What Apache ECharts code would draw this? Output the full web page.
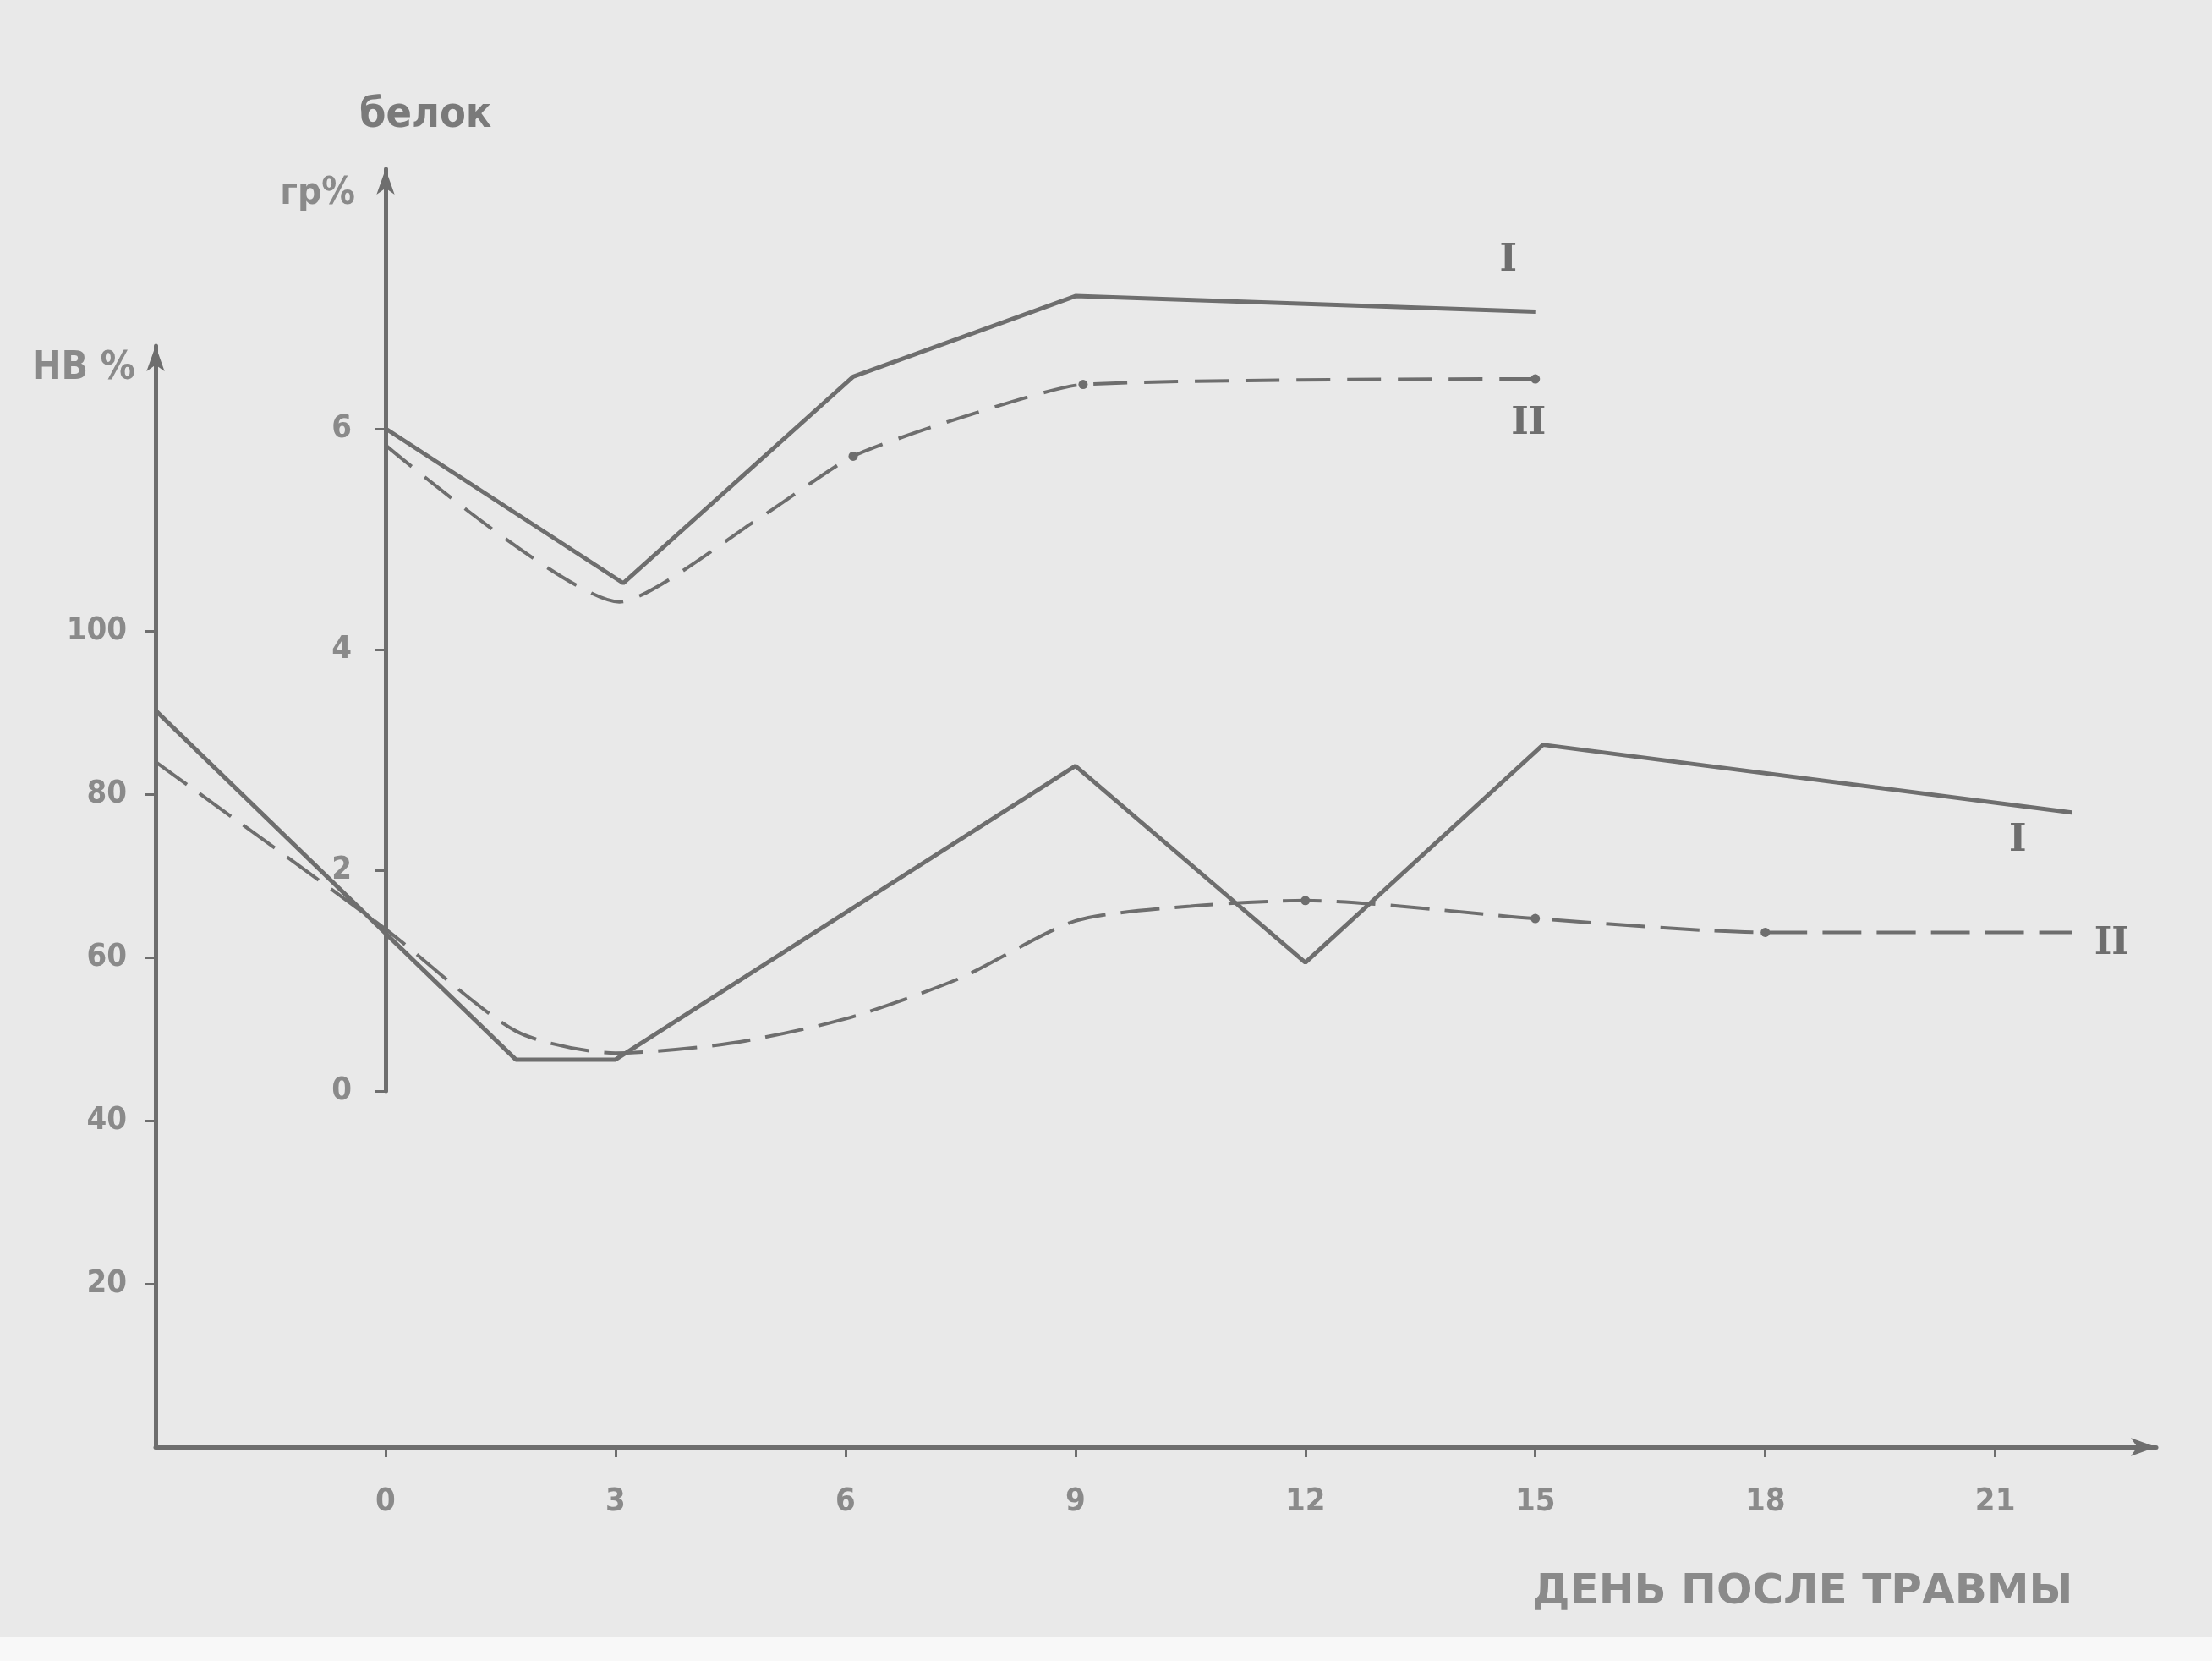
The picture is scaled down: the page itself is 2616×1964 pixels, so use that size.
<!DOCTYPE html>
<html>
<head>
<meta charset="utf-8">
<script src="https://cdn.jsdelivr.net/npm/echarts@6/dist/echarts.min.js"></script>
<style>
html,body{margin:0;padding:0;background:#e9e9e9;}
#main{width:2616px;height:1964px;}
</style>
</head>
<body>
<div id="main"></div>
<script>
// дни после травмы и значения
var dayTicks = [0, 3, 6, 9, 12, 15, 18, 21];
var hbTicks = [20, 40, 60, 80, 100];
var protTicks = [0, 2, 4, 6];

// НВ %, кривая I (сплошная)
var hbDays1 = [-3, 1.7, 3, 9, 12, 15.1, 22];
var hbVals1 = [90.3, 47.5, 47.5, 83.5, 59.4, 86.1, 77.8];
// НВ %, кривая II (пунктир)
var hbDays2 = [-3, 0, 1.7, 3, 4.5, 6, 7.5, 9, 10.5, 12, 15, 18, 22];
var hbVals2 = [84, 63.5, 51, 48.3, 49.5, 52.5, 57.5, 64.5, 66.3, 67, 64.8, 63.1, 63.1];
var hbDots2 = [12, 15, 18];

// белок гр%, кривая I
var protDays1 = [0, 3.1, 6.1, 9, 15];
var protVals1 = [6.0, 4.6, 6.47, 7.2, 7.06];
// белок гр%, кривая II
var protDays2 = [0, 3.05, 4.9, 6.1, 7.6, 9.1, 15];
var protVals2 = [5.85, 4.43, 5.2, 5.75, 6.12, 6.4, 6.45];
var protDots2 = [6.1, 9.1, 15];

var ink = '#6e6e6e';
var labelInk = '#8a8a8a';
var narrow = "'Liberation Sans Narrow', 'DejaVu Sans Condensed', 'DejaVu Sans', sans-serif";

function pairs(days, vals, dots) {
	var out = [];
	for (var i = 0; i < days.length; i++) {
		var item = { value: [days[i], vals[i]] };
		if (!dots || dots.indexOf(days[i]) < 0) item.symbol = 'none';
		out.push(item);
	}
	return out;
}

function romanLabel(text, dx, dy) {
	return {
		show: true,
		formatter: text,
		offset: [dx, dy],
		distance: 0,
		align: 'center',
		verticalAlign: 'middle',
		color: ink,
		fontSize: 44,
		fontWeight: 'bold',
		fontFamily: "'DejaVu Serif', 'Liberation Serif', serif"
	};
}

var myChart = echarts.init(document.getElementById('main'));

var tickLabel = {
	color: labelInk,
	fontSize: 38,
	fontWeight: 'bold',
	fontFamily: narrow
};

option = {
	backgroundColor: '#e9e9e9',
	animation: false,
	grid: [
		{ left: 184, right: 66, top: 409, bottom: 253 },
		{ left: 456, right: 66, top: 200, bottom: 674 }
	],
	xAxis: [{
		type: 'value',
		gridIndex: 0,
		min: -3,
		max: 23.1,
		splitLine: { show: false },
		axisLine: {
			onZero: false,
			lineStyle: { color: ink, width: 5 },
			symbol: ['none', 'arrow'],
			symbolSize: [16, 30]
		},
		axisTick: { customValues: dayTicks, length: 12, lineStyle: { color: ink, width: 3 } },
		axisLabel: Object.assign({ customValues: dayTicks, margin: 46 }, tickLabel)
	}, {
		type: 'value',
		gridIndex: 1,
		min: 0,
		max: 23.1,
		show: false
	}],
	yAxis: [{
		type: 'value',
		gridIndex: 0,
		min: 0,
		max: 135,
		splitLine: { show: false },
		axisLine: {
			show: true,
			onZero: false,
			lineStyle: { color: ink, width: 5 },
			symbol: ['none', 'arrow'],
			symbolSize: [16, 30]
		},
		axisTick: { show: true, customValues: hbTicks, length: 12, lineStyle: { color: ink, width: 3 } },
		axisLabel: Object.assign({ customValues: hbTicks, margin: 34 }, tickLabel),
		name: 'НВ %',
		nameLocation: 'end',
		nameGap: -50,
		nameTextStyle: {
			align: 'right',
			padding: [0, 24, 0, 0],
			color: labelInk,
			fontSize: 46,
			fontWeight: 'bold',
			fontFamily: narrow
		}
	}, {
		type: 'value',
		gridIndex: 1,
		min: 0,
		max: 8.35,
		splitLine: { show: false },
		axisLine: {
			show: true,
			onZero: false,
			lineStyle: { color: ink, width: 5 },
			symbol: ['none', 'arrow'],
			symbolSize: [16, 30]
		},
		axisTick: { show: true, customValues: protTicks, length: 12, lineStyle: { color: ink, width: 3 } },
		axisLabel: Object.assign({ customValues: protTicks, margin: 40 }, tickLabel),
		name: 'гр%',
		nameLocation: 'end',
		nameGap: -52,
		nameTextStyle: {
			align: 'right',
			padding: [0, 36, 0, 0],
			color: labelInk,
			fontSize: 44,
			fontWeight: 'bold',
			fontFamily: narrow
		}
	}],
	graphic: [{
		type: 'text',
		left: 425,
		top: 112,
		style: {
			text: 'белок',
			fill: '#7a7a7a',
			font: "bold 50px " + narrow
		}
	}, {
		type: 'text',
		left: 1812,
		top: 1858,
		style: {
			text: 'ДЕНЬ ПОСЛЕ ТРАВМЫ',
			fill: labelInk,
			font: "bold 50px 'DejaVu Sans', sans-serif"
		}
	}, {
		type: 'rect',
		left: 0,
		top: 1936,
		shape: { width: 2616, height: 28 },
		style: { fill: '#f8f8f8' }
	}],
	series: [{
		type: 'line',
		name: 'НВ I',
		xAxisIndex: 0,
		yAxisIndex: 0,
		data: pairs(hbDays1, hbVals1),
		showSymbol: false,
		lineStyle: { color: ink, width: 5 },
		endLabel: romanLabel('I', -64, 34)
	}, {
		type: 'line',
		name: 'НВ II',
		xAxisIndex: 0,
		yAxisIndex: 0,
		data: pairs(hbDays2, hbVals2, hbDots2),
		smooth: 0.25,
		symbol: 'circle',
		symbolSize: 11,
		itemStyle: { color: ink },
		lineStyle: { color: ink, width: 4, type: [46, 18] },
		endLabel: romanLabel('II', 47, 14)
	}, {
		type: 'line',
		name: 'белок I',
		xAxisIndex: 1,
		yAxisIndex: 1,
		data: pairs(protDays1, protVals1),
		showSymbol: false,
		lineStyle: { color: ink, width: 5 },
		endLabel: romanLabel('I', -32, -60)
	}, {
		type: 'line',
		name: 'белок II',
		xAxisIndex: 1,
		yAxisIndex: 1,
		data: pairs(protDays2, protVals2, protDots2),
		smooth: 0.2,
		symbol: 'circle',
		symbolSize: 11,
		itemStyle: { color: ink },
		lineStyle: { color: ink, width: 4, type: [40, 20] },
		endLabel: romanLabel('II', -8, 54)
	}]
};
myChart.setOption(option);
</script>
</body>
</html>
